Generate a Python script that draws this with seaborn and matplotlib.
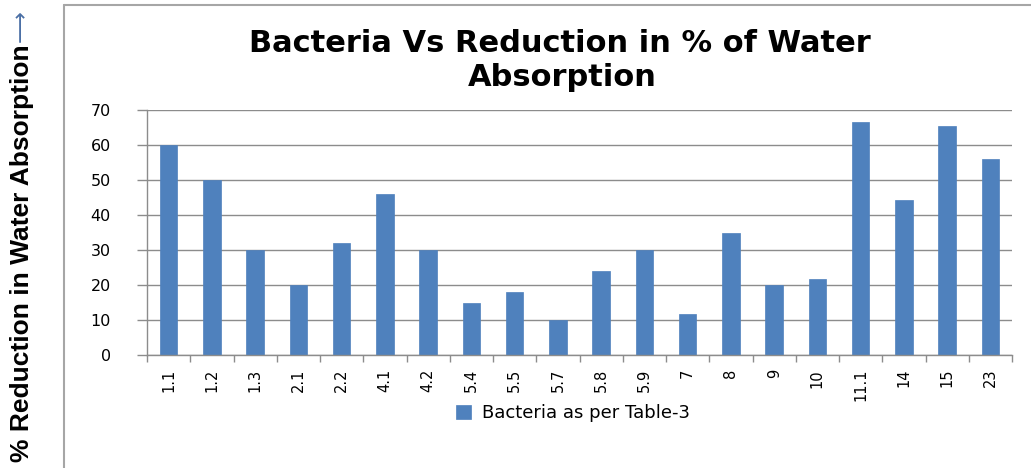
import matplotlib
matplotlib.use("Agg")
import matplotlib.pyplot as plt
import seaborn as sns
import pandas as pd
from matplotlib.lines import Line2D
from matplotlib.ticker import FixedLocator

# Bacteria identifiers and the reduction in water absorption (%)
bacteria = ["1.1", "1.2", "1.3", "2.1", "2.2", "4.1", "4.2", "5.4", "5.5", "5.7",
            "5.8", "5.9", "7", "8", "9", "10", "11.1", "14", "15", "23"]
reduction = [60, 50, 30, 20, 32, 46, 30, 15, 18, 10,
             24, 30, 11.6, 35, 20, 21.7, 66.5, 44.2, 65.4, 56]
y_ticks = [0, 10, 20, 30, 40, 50, 60, 70]
series_name = "Bacteria as per Table-3"

df = pd.DataFrame({"bacteria": bacteria, "reduction": reduction})

sns.set_theme(style="white")
plt.rcParams["font.family"] = ["DejaVu Sans"]
plt.rcParams["text.color"] = "black"

W, H = 1031, 468
fig = plt.figure(figsize=(W / 100, H / 100), dpi=100)
fig.patch.set_facecolor("white")

ax = fig.add_axes([147 / W, 1 - 355 / H, (1012 - 147) / W, (355 - 110) / H])

sns.barplot(data=df, x="bacteria", y="reduction", order=bacteria,
            color="#4F81BD", saturation=1, width=0.4, ax=ax,
            label=series_name, edgecolor="#4F81BD", linewidth=0.5)

ax.set_ylim(0, 70)
ax.set_xlim(-0.5, len(bacteria) - 0.5)
ax.set_yticks(y_ticks)
ax.yaxis.grid(True, color="#8C8C8C", linewidth=1.0)
ax.set_axisbelow(True)

for side in ["top", "right"]:
    ax.spines[side].set_visible(False)
for side in ["left", "bottom"]:
    ax.spines[side].set_color("#8C8C8C")
    ax.spines[side].set_linewidth(1.0)

ax.set_xlabel("")
ax.set_ylabel("")

# category boundaries as tick marks, labels centred on the bars
ax.xaxis.set_minor_locator(FixedLocator([i - 0.5 for i in range(len(bacteria) + 1)]))
ax.tick_params(axis="x", which="minor", bottom=True, length=5, color="#8C8C8C", width=1)
ax.tick_params(axis="x", which="major", bottom=False, length=0, pad=10,
               labelsize=10.5, labelcolor="black", labelrotation=90)
ax.tick_params(axis="y", left=True, length=7, color="#8C8C8C", width=1,
               labelsize=11.5, labelcolor="black", pad=19)

# chart title
title_font = ["DejaVu Sans"]
fig.text(560 / W, 1 - 43 / H, "Bacteria Vs Reduction in % of Water",
         ha="center", va="center", fontsize=22, fontweight="bold",
         family=title_font, color="black")
fig.text(562 / W, 1 - 78 / H, "Absorption",
         ha="center", va="center", fontsize=22, fontweight="bold",
         family=title_font, color="black")

# vertical axis title outside the chart frame
fig.text(22 / W, 1 - 253 / H, "% Reduction in Water Absorption",
         rotation=90, ha="center", va="center", fontsize=19, fontweight="bold",
         family=["Liberation Sans", "DejaVu Sans"], color="black")
fig.text(21 / W, 1 - 26 / H, "\u27F6", rotation=90, ha="center", va="center",
         fontsize=16, color="#4A6FA5", family=["DejaVu Sans"])

# chart frame
fig.add_artist(Line2D([64 / W, 1.0], [1 - 5 / H, 1 - 5 / H],
                      transform=fig.transFigure, color="#A6A6A6", linewidth=1.5))
fig.add_artist(Line2D([64 / W, 64 / W], [1 - 5 / H, 0.0],
                      transform=fig.transFigure, color="#A6A6A6", linewidth=1.5))

# legend below the plot
leg = ax.legend(loc="center", bbox_to_anchor=(573 / W, 1 - 413 / H),
                bbox_transform=fig.transFigure, frameon=False,
                handlelength=0.8, handleheight=0.8, handletextpad=0.6,
                prop={"family": ["DejaVu Sans"], "size": 13})
for txt in leg.get_texts():
    txt.set_color("black")

fig.savefig("out.png", dpi=100, facecolor="white")
